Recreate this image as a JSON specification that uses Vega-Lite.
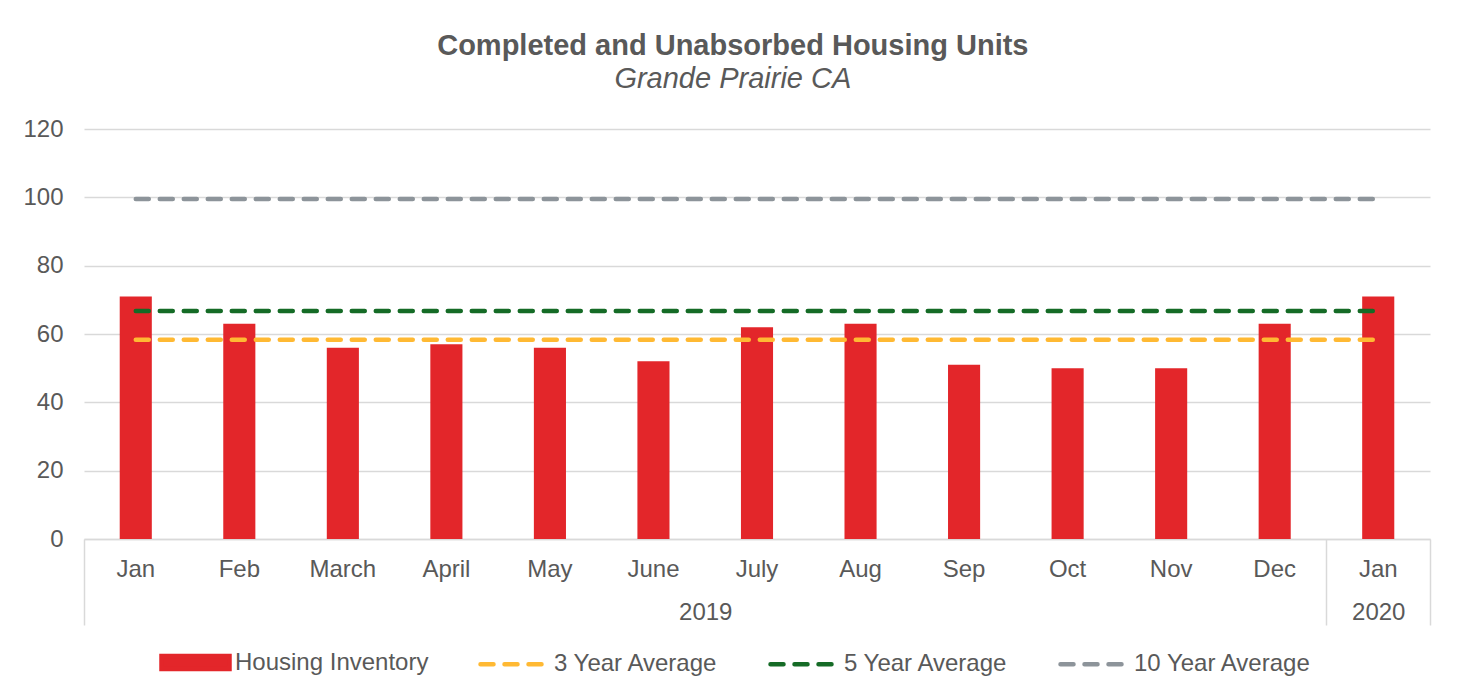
{
  "$schema": "https://vega.github.io/schema/vega-lite/v6.json",
  "autosize": {"type": "none"},
  "width": 1346,
  "height": 410,
  "padding": {"left": 84, "top": 129, "right": 35, "bottom": 152},
  "background": "white",
  "config": {
    "font": "Liberation Sans",
    "view": {"stroke": null}
  },
  "title": {
    "text": "Completed and Unabsorbed Housing Units",
    "subtitle": "Grande Prairie CA",
    "fontSize": 29,
    "fontWeight": "bold",
    "color": "#595959",
    "subtitleFontSize": 29,
    "subtitleFontStyle": "italic",
    "subtitleColor": "#595959",
    "subtitlePadding": 4,
    "anchor": "middle",
    "frame": "bounds",
    "dx": 6,
    "offset": 23
  },
  "data": {
    "values": [
      {"period": "Jan 2019", "Housing Inventory": 71, "3 Year Average": 58.3, "5 Year Average": 66.7, "10 Year Average": 99.5},
      {"period": "Feb 2019", "Housing Inventory": 63, "3 Year Average": 58.3, "5 Year Average": 66.7, "10 Year Average": 99.5},
      {"period": "March 2019", "Housing Inventory": 56, "3 Year Average": 58.3, "5 Year Average": 66.7, "10 Year Average": 99.5},
      {"period": "April 2019", "Housing Inventory": 57, "3 Year Average": 58.3, "5 Year Average": 66.7, "10 Year Average": 99.5},
      {"period": "May 2019", "Housing Inventory": 56, "3 Year Average": 58.3, "5 Year Average": 66.7, "10 Year Average": 99.5},
      {"period": "June 2019", "Housing Inventory": 52, "3 Year Average": 58.3, "5 Year Average": 66.7, "10 Year Average": 99.5},
      {"period": "July 2019", "Housing Inventory": 62, "3 Year Average": 58.3, "5 Year Average": 66.7, "10 Year Average": 99.5},
      {"period": "Aug 2019", "Housing Inventory": 63, "3 Year Average": 58.3, "5 Year Average": 66.7, "10 Year Average": 99.5},
      {"period": "Sep 2019", "Housing Inventory": 51, "3 Year Average": 58.3, "5 Year Average": 66.7, "10 Year Average": 99.5},
      {"period": "Oct 2019", "Housing Inventory": 50, "3 Year Average": 58.3, "5 Year Average": 66.7, "10 Year Average": 99.5},
      {"period": "Nov 2019", "Housing Inventory": 50, "3 Year Average": 58.3, "5 Year Average": 66.7, "10 Year Average": 99.5},
      {"period": "Dec 2019", "Housing Inventory": 63, "3 Year Average": 58.3, "5 Year Average": 66.7, "10 Year Average": 99.5},
      {"period": "Jan 2020", "Housing Inventory": 71, "3 Year Average": 58.3, "5 Year Average": 66.7, "10 Year Average": 99.5}
    ]
  },
  "layer": [
    {
      "layer": [
        {
          "transform": [
            {"fold": ["Housing Inventory"], "as": ["series", "units"]}
          ],
          "mark": {"type": "bar", "width": {"band": 0.31}},
          "encoding": {
            "x": {
              "field": "period",
              "type": "nominal",
              "sort": null,
              "scale": {"paddingInner": 0, "paddingOuter": 0},
              "axis": {
                "orient": "bottom",
                "title": null,
                "labelExpr": "split(datum.value, ' ')[0]",
                "labelAngle": 0,
                "labelFontSize": 24,
                "labelColor": "#595959",
                "labelPadding": 18,
                "ticks": false,
                "tickSize": 0,
                "domainColor": "#d9d9d9",
                "domainWidth": 1.5,
                "grid": false
              }
            },
            "y": {
              "field": "units",
              "type": "quantitative",
              "scale": {"domain": [0, 120]},
              "axis": {
                "title": null,
                "values": [0, 20, 40, 60, 80, 100, 120],
                "labelFontSize": 24,
                "labelColor": "#595959",
                "labelPadding": 21,
                "ticks": false,
                "domain": false,
                "gridColor": "#d9d9d9",
                "gridWidth": 1.5
              }
            },
            "color": {
              "field": "series",
              "type": "nominal",
              "scale": {
                "domain": ["Housing Inventory", "3 Year Average", "5 Year Average", "10 Year Average"],
                "range": ["#e3262a", "#ffb933", "#156b26", "#8d949a"]
              },
              "legend": {
                "orient": "none",
                "legendX": 75,
                "legendY": 497,
                "direction": "horizontal",
                "title": null,
                "labelFontSize": 24,
                "labelColor": "#595959",
                "labelLimit": 400,
                "symbolSize": 4624,
                "labelOffset": 3,
                "columnPadding": 42,
                "encode": {
                  "symbols": {
                    "update": {
                      "shape": {"signal": "datum.value === 'Housing Inventory' ? 'M-1,-0.19H1V0.19H-1Z' : 'M-1,0H1'"},
                      "fill": {"signal": "datum.value === 'Housing Inventory' ? '#e3262a' : 'transparent'"},
                      "stroke": {"signal": "datum.value === 'Housing Inventory' ? 'transparent' : datum.value === '3 Year Average' ? '#ffb933' : datum.value === '5 Year Average' ? '#156b26' : '#8d949a'"},
                      "strokeWidth": {"value": 4.5},
                      "strokeDash": {"signal": "datum.value === 'Housing Inventory' ? [] : [13, 11]"},
                      "strokeCap": {"value": "round"},
                      "opacity": {"value": 1}
                    }
                  }
                }
              }
            }
          }
        },
        {
          "transform": [
            {"fold": ["3 Year Average", "5 Year Average", "10 Year Average"], "as": ["series", "units"]}
          ],
          "mark": {"type": "line", "strokeDash": [13, 11], "strokeWidth": 4.5, "strokeCap": "round"},
          "encoding": {
            "x": {"field": "period", "type": "nominal", "sort": null},
            "y": {"field": "units", "type": "quantitative"},
            "color": {"field": "series", "type": "nominal"}
          }
        }
      ]
    },
    {
      "data": {"values": [{"year": "2019", "months": 12}, {"year": "2020", "months": 1}]},
      "mark": {"type": "bar", "opacity": 0},
      "encoding": {
        "x": {
          "field": "months",
          "type": "quantitative",
          "stack": "zero",
          "scale": {"domain": [0, 13], "nice": false, "zero": false},
          "axis": {
            "orient": "bottom",
            "title": null,
            "values": [0, 6, 12, 12.5, 13],
            "labelExpr": "datum.value == 6 ? '2019' : datum.value == 12.5 ? '2020' : ''",
            "domain": false,
            "grid": false,
            "tickSize": 86,
            "tickColor": "#d9d9d9",
            "tickWidth": 1.5,
            "tickOpacity": {"condition": {"test": "datum.value == 6 || datum.value == 12.5", "value": 0}, "value": 1},
            "labelPadding": -25,
            "labelFontSize": 24,
            "labelColor": "#595959",
            "labelOverlap": false,
            "labelFlush": false,
            "labelBound": false
          }
        },
        "detail": {"field": "year", "type": "nominal"}
      }
    }
  ],
  "resolve": {"scale": {"x": "independent"}, "axis": {"x": "independent"}}
}
